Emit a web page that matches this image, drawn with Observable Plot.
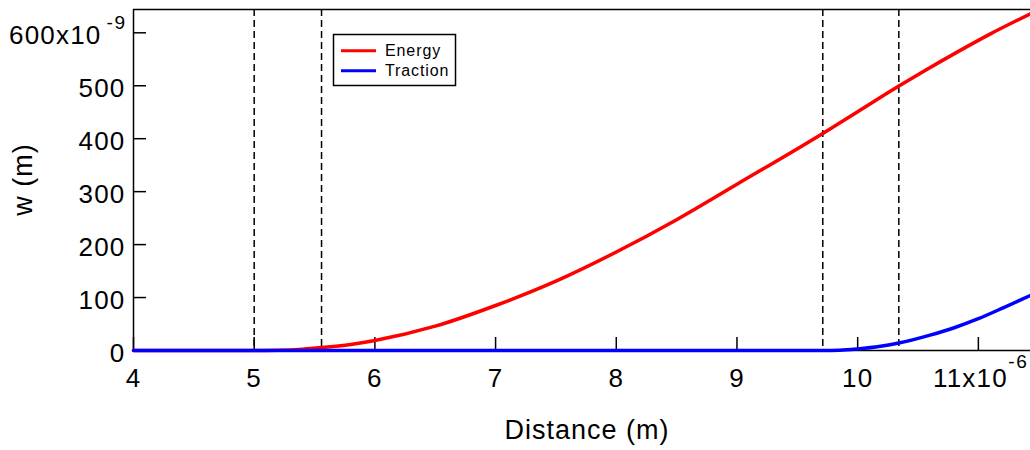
<!DOCTYPE html>
<html>
<head>
<meta charset="utf-8">
<script src="https://cdn.jsdelivr.net/npm/d3@7"></script>
<script src="https://cdn.jsdelivr.net/npm/@observablehq/plot@0.6"></script>
<style>
  body { margin: 0; background: white; }
  #chart { position: relative; width: 1030px; height: 450px; overflow: hidden; }
  svg { font-family: "Liberation Sans", Arial, sans-serif; }
  g[font-size="26"] text { letter-spacing: 1.2px; }
  g[font-size="27"] text { letter-spacing: 1px; }
  g[font-size="17"] text, g[font-size="19"] text { letter-spacing: 1.5px; }
  .legend text { letter-spacing: 0.9px; }
  .ylabel { letter-spacing: 1px; }
</style>
</head>
<body>
<div id="chart"></div>
<script>
// Data (distance ×1e-6 m, w ×1e-9 m)
const energyX = [4, 5.0, 5.2, 5.4, 5.558, 5.8, 6, 6.5, 7, 7.5, 8, 8.5, 9, 9.711, 10, 10.338, 10.548, 10.824, 11.1, 11.432];
const energyY = [0, 0, 0.5, 2.5, 5.5, 11.5, 19, 46, 85, 131, 186, 247, 314, 410, 451, 499, 527.5, 563.5, 598, 636];
const tractionX = [4, 9.711, 9.85, 10, 10.19, 10.341, 10.6, 10.8, 11, 11.21, 11.432];
const tractionY = [0, 0, 0.5, 3, 8, 14, 29, 43, 60, 81, 104];
const dashedX = [5.0, 5.558, 9.711, 10.341];
const xTicks = [4, 5, 6, 7, 8, 9, 10, 11];
const yTicks = [0, 100, 200, 300, 400, 500, 600];
const xDomain = [4, 11.432];
const yDomain = [0, 644];
const seriesNames = ["Energy", "Traction"];
const seriesColors = ["#ff0000", "#0000ff"];
const xTitle = "Distance (m)";
const yTitle = "w (m)";

const energy = energyX.map((x, i) => ({x, y: energyY[i]}));
const traction = tractionX.map((x, i) => ({x, y: tractionY[i]}));

const xLast = xTicks[xTicks.length - 1];
const yLast = yTicks[yTicks.length - 1];

const W = 1030, H = 450, mL = 133, mR = 0, mT = 9, mB = 100;
const plotW = W - mL - mR, plotH = H - mT - mB;

const chart = Plot.plot({
  width: W, height: H,
  marginLeft: mL, marginRight: mR, marginTop: mT, marginBottom: mB,
  x: {domain: xDomain, axis: null},
  y: {domain: yDomain, axis: null},
  marks: [
    Plot.ruleX(dashedX, {x: d => d, stroke: "black", strokeWidth: 1.5, strokeDasharray: "7,4"}),
    Plot.ruleX(xTicks, {x: d => d, stroke: "black", strokeWidth: 1.5, insetTop: plotH - 13}),
    Plot.ruleY(yTicks, {y: d => d, stroke: "black", strokeWidth: 1.5, insetRight: plotW - 13}),
    Plot.ruleX([xDomain[0]], {x: d => d, stroke: "black", strokeWidth: 1.5}),
    Plot.ruleY([yDomain[0]], {y: d => d, stroke: "black", strokeWidth: 1.5}),
    Plot.ruleY([yDomain[1]], {y: d => d, stroke: "black", strokeWidth: 1.5}),
    Plot.line(energy, {x: "x", y: "y", stroke: seriesColors[0], strokeWidth: 3.5, curve: "monotone-x"}),
    Plot.line(traction, {x: "x", y: "y", stroke: seriesColors[1], strokeWidth: 3.5, curve: "monotone-x"}),
    Plot.text(xTicks.filter(d => d !== xLast), {x: d => d, text: d => String(d), frameAnchor: "bottom", lineAnchor: "bottom", dy: 36, fontSize: 26, fill: "black"}),
    Plot.text([xLast], {x: d => d, text: d => d + "x10", frameAnchor: "bottom", lineAnchor: "bottom", dy: 36, dx: -8, fontSize: 26, fill: "black"}),
    Plot.text([xLast], {x: d => d, text: () => "-6", frameAnchor: "bottom", lineAnchor: "bottom", textAnchor: "start", dy: 17, dx: 30, fontSize: 19, fill: "black"}),
    Plot.text(yTicks.filter(d => d !== yLast), {y: d => d, text: d => String(d), frameAnchor: "left", textAnchor: "end", lineAnchor: "bottom", dy: 11.5, dx: -8, fontSize: 26, fill: "black"}),
    Plot.text([yLast], {y: d => d, text: d => d + "x10", frameAnchor: "left", textAnchor: "end", lineAnchor: "bottom", dy: 11.5, dx: -32, fontSize: 26, fill: "black"}),
    Plot.text([yLast], {y: d => d, text: () => "-9", frameAnchor: "left", textAnchor: "end", lineAnchor: "bottom", dy: -4, dx: -7, fontSize: 19, fill: "black"}),
    Plot.text([xTitle], {text: d => d, frameAnchor: "bottom", lineAnchor: "bottom", dy: 88, dx: 5, fontSize: 27, fill: "black"})
  ]
});

document.getElementById("chart").appendChild(chart);

const svg = d3.select(chart);
// rotated y-axis title
svg.append("text").attr("class", "ylabel")
  .attr("transform", `translate(32,${mT + plotH / 2}) rotate(-90)`)
  .attr("text-anchor", "middle").attr("font-size", 27).attr("fill", "black")
  .attr("font-family", "'Liberation Sans', Arial, sans-serif")
  .text(yTitle);

// Legend (inside the plot area, upper left)
const lg = svg.append("g").attr("class", "legend")
  .attr("font-family", "'Liberation Sans', Arial, sans-serif").attr("font-size", 16)
  .attr("text-anchor", "start");
lg.append("rect").attr("x", 333.5).attr("y", 34.5).attr("width", 122).attr("height", 51)
  .attr("fill", "white").attr("stroke", "black").attr("stroke-width", 1.5);
seriesNames.forEach((name, i) => {
  const cy = 50.7 + i * 20;
  lg.append("line").attr("x1", 341).attr("x2", 376).attr("y1", cy).attr("y2", cy)
    .attr("stroke", seriesColors[i]).attr("stroke-width", 3);
  lg.append("text").attr("x", 385).attr("y", cy + 5.5).attr("fill", "black").text(name);
});
</script>
</body>
</html>
